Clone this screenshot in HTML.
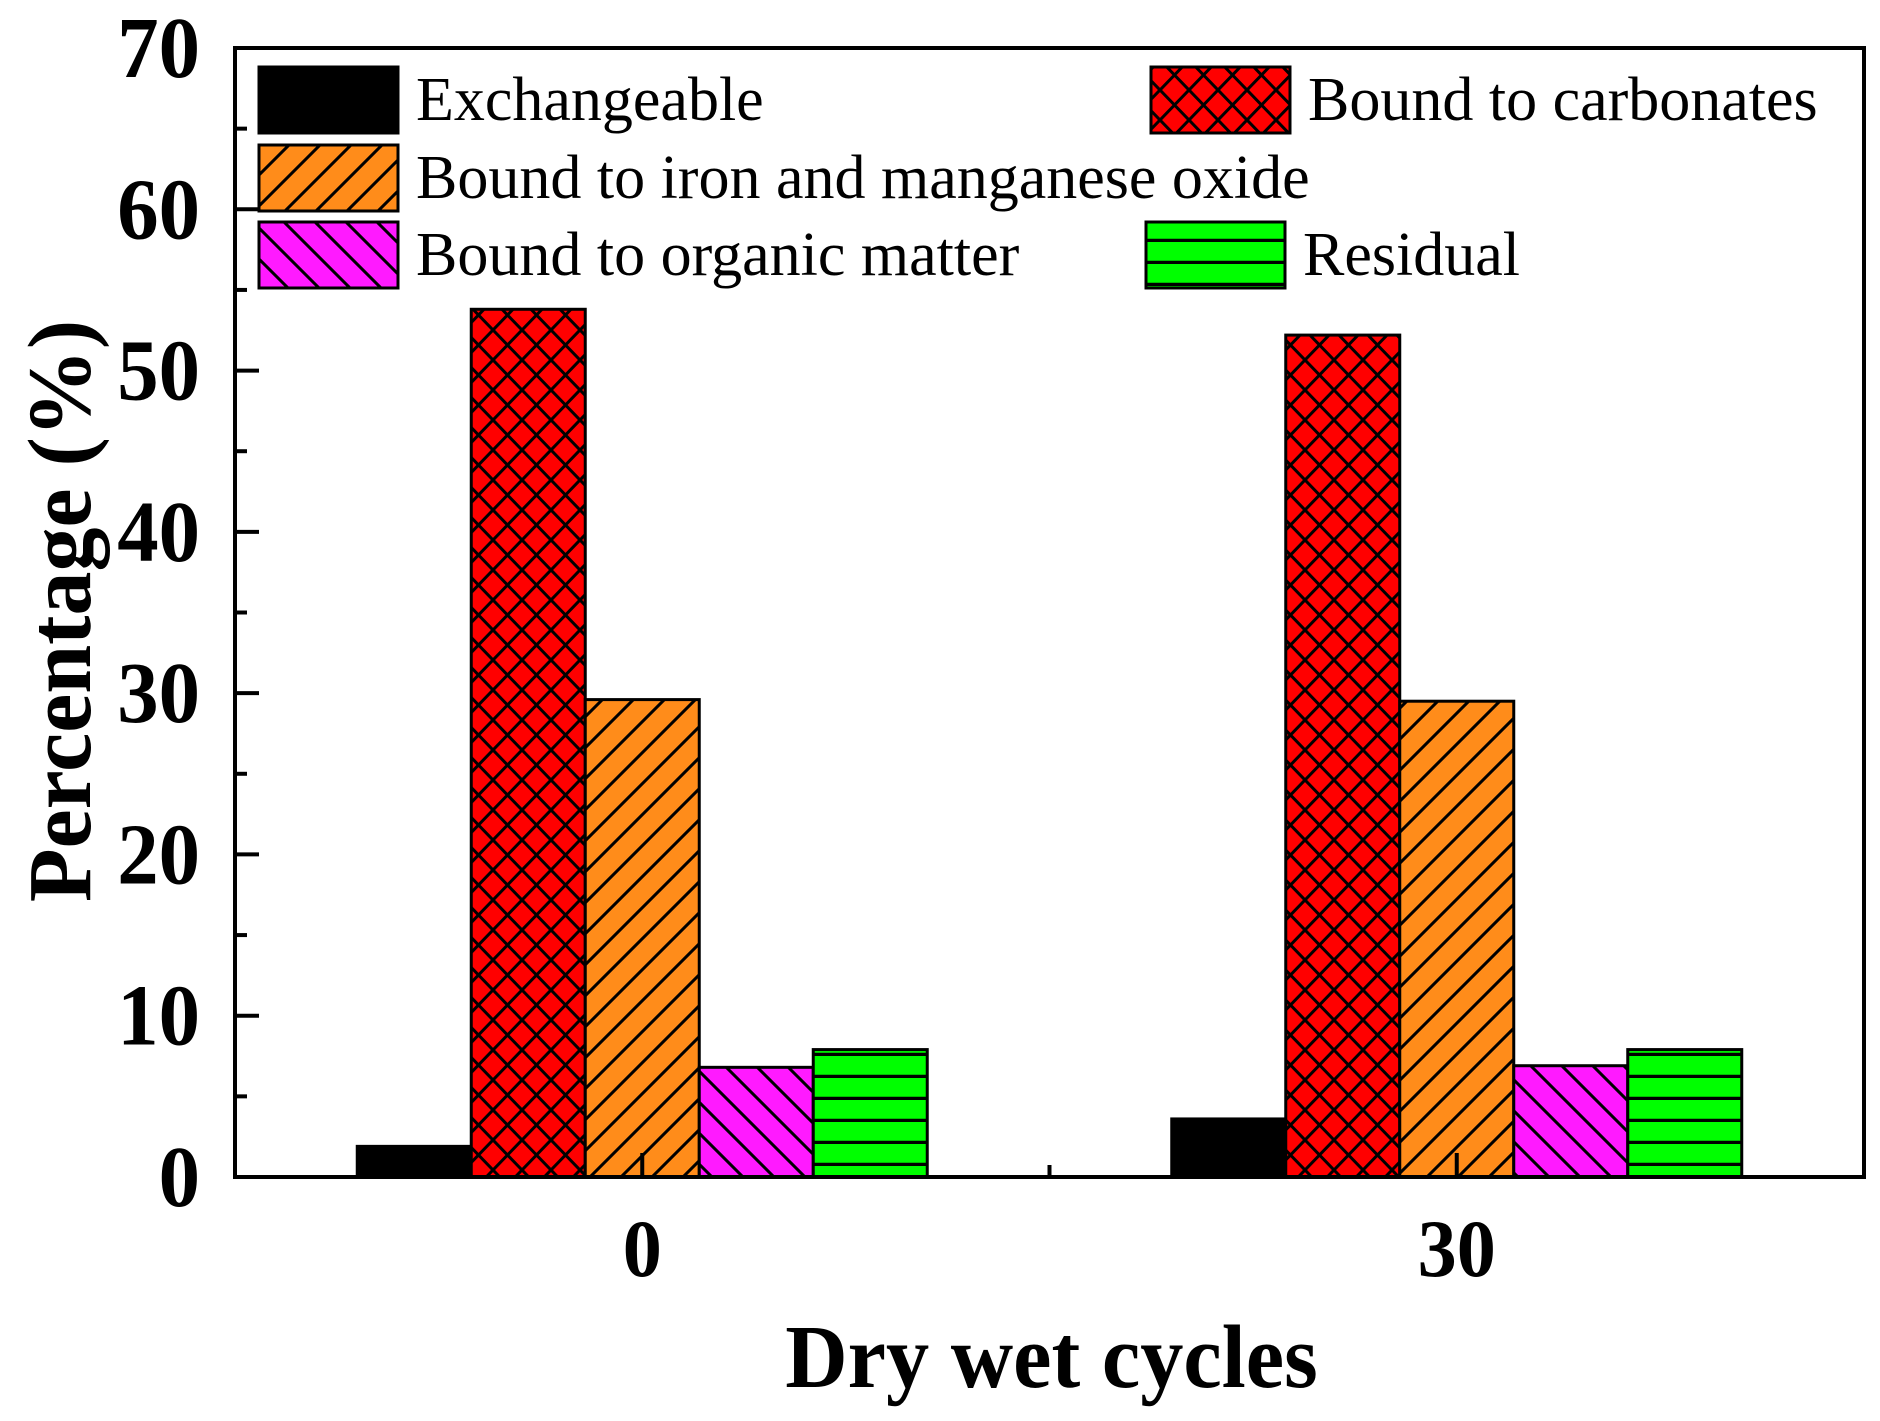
<!DOCTYPE html>
<html><head><meta charset="utf-8"><style>
html,body{margin:0;padding:0;background:#fff;}
svg{display:block;font-family:"Liberation Serif",serif;}
</style></head><body>
<svg id="chart" width="1880" height="1421" viewBox="0 0 1880 1421" xmlns="http://www.w3.org/2000/svg">
<defs>
<pattern id="pCross" patternUnits="userSpaceOnUse" width="29" height="30">
<rect width="29" height="30" fill="#ff0000"/>
<path d="M0,0 L29,30 M29,0 L0,30 M-14.5,15 L0,30 M29,0 L43.5,15" stroke="#000" stroke-width="3"/>
</pattern>
<pattern id="pFwd" patternUnits="userSpaceOnUse" width="31" height="31">
<rect width="31" height="31" fill="#ff8c1a"/>
<path d="M-5,36 L36,-5 M-5,5 L5,-5 M26,36 L36,26" stroke="#000" stroke-width="3"/>
</pattern>
<pattern id="pBack" patternUnits="userSpaceOnUse" width="31" height="31">
<rect width="31" height="31" fill="#ff1aff"/>
<path d="M-5,-5 L36,36 M26,-5 L36,5 M-5,26 L5,36" stroke="#000" stroke-width="3"/>
</pattern>
<pattern id="pHoriz" patternUnits="userSpaceOnUse" width="22" height="22">
<rect width="22" height="22" fill="#00ff00"/>
<path d="M0,20.5 L22,20.5" stroke="#000" stroke-width="3.5"/>
</pattern>
</defs>
<g id="plot"></g>
</svg>
<script>
const categories = ["0", "30"];
const seriesNames = ["Exchangeable", "Bound to carbonates", "Bound to iron and manganese oxide", "Bound to organic matter", "Residual"];
const exchangeable = [1.9, 3.6];
const carbonates = [53.8, 52.2];
const ironMn = [29.6, 29.5];
const organic = [6.8, 6.9];
const residual = [7.9, 7.9];
const yTicks = [0, 10, 20, 30, 40, 50, 60, 70];

const NS = "http://www.w3.org/2000/svg";
const L = 235, R = 1864, T = 48, B = 1177;
const yMin = 0, yMax = 70;
const yScale = v => B - (v - yMin) / (yMax - yMin) * (B - T);
const catW = (R - L) / categories.length;
const xCenter = i => L + catW * (i + 0.5);
const barW = 114;
const fills = ["#000", "url(#pCross)", "url(#pFwd)", "url(#pBack)", "url(#pHoriz)"];
const series = [exchangeable, carbonates, ironMn, organic, residual];
const g = document.getElementById('plot');
function mk(tag, attrs, parent) {
  const e = document.createElementNS(NS, tag);
  for (const k in attrs) e.setAttribute(k, attrs[k]);
  (parent || g).appendChild(e);
  return e;
}
series.forEach((vals, s) => {
  vals.forEach((v, i) => {
    const x = xCenter(i) + (s - 2.5) * barW;
    const y = yScale(v);
    const r = mk('rect', {x: x, y: y, width: barW, height: yScale(0) - y, fill: fills[s], stroke: '#000', 'stroke-width': 3});
    
    
  });
});
const fr = mk('rect', {x: L, y: T, width: R - L, height: B - T, fill: 'none', stroke: '#000', 'stroke-width': 4});


yTicks.forEach(t => {
  const y = yScale(t);
  const tk = mk('line', {x1: L, x2: L + 24, y1: y, y2: y, stroke: '#000', 'stroke-width': 4});
  
  
  if (t < 70) {
    const m = mk('line', {x1: L, x2: L + 12, y1: yScale(t + 5), y2: yScale(t + 5), stroke: '#000', 'stroke-width': 4});
    
    
  }
  const lb = mk('text', {x: 0, y: 0, 'text-anchor': 'end', 'font-size': 72, 'font-weight': 'bold', transform: 'translate(200,' + (y + 29) + ') scale(1.15,1.2)'});
  lb.textContent = t;
  
  
});
categories.forEach((c, i) => {
  const x = xCenter(i);
  const tk = mk('line', {x1: x, x2: x, y1: B, y2: B - 24, stroke: '#000', 'stroke-width': 4});
  
  
  const lb = mk('text', {x: 0, y: 0, 'text-anchor': 'middle', 'font-size': 68, 'font-weight': 'bold', transform: 'translate(' + x + ',1276) scale(1.15,1.2)'});
  lb.textContent = c;
  
  
});
for (let i = 1; i < categories.length; i++) {
  const x = L + catW * i;
  const m = mk('line', {x1: x, x2: x, y1: B, y2: B - 12, stroke: '#000', 'stroke-width': 4});
  
  
}
const xt = mk('text', {x: 0, y: 0, 'text-anchor': 'middle', 'font-size': 80, 'font-weight': 'bold', transform: 'translate(' + ((L + R) / 2 + 2) + ',1387) scale(1.08,1.12)'});
xt.textContent = 'Dry wet cycles';


const yt = mk('text', {x: 0, y: 0, 'text-anchor': 'middle', 'font-size': 80, 'font-weight': 'bold', transform: 'translate(90,611) rotate(-90) scale(1.1,1.12)'});
yt.textContent = 'Percentage (%)';


const legPos = [[259, 100], [1151, 100], [259, 178], [259, 255], [1146, 255]];
seriesNames.forEach((n, s) => {
  const [x, cy] = legPos[s];
  const sw = mk('rect', {x: x, y: cy - 33, width: 139, height: 66, fill: fills[s], stroke: '#000', 'stroke-width': 3});
  
  
  const tx = mk('text', {x: x + 157, y: cy + 20, 'font-size': 62});
  tx.textContent = n;
  
  
});
</script>
</body></html>
